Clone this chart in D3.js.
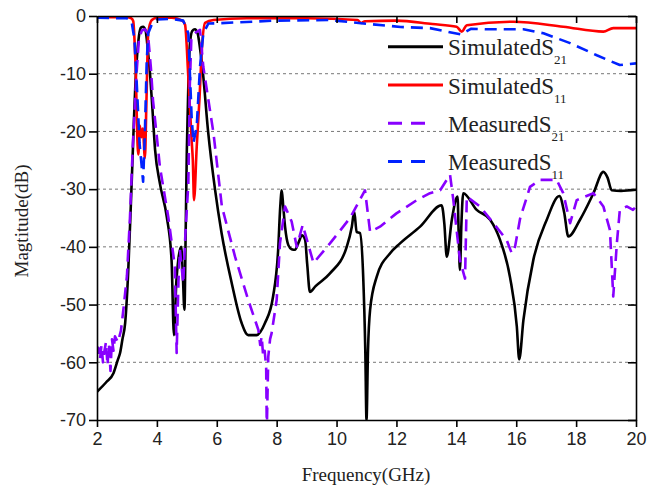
<!DOCTYPE html>
<html>
<head>
<meta charset="utf-8">
<script src="https://cdn.jsdelivr.net/npm/d3@7"></script>
<style>
  body { margin: 0; background: #fff; }
  svg { display: block; font-family: "Liberation Serif", "Times New Roman", serif; }
</style>
</head>
<body>
<div class="container"></div>
<script>
(function() {
  // chart data: [GHz, dB]
  var simS21 = [
    [2.0,-65.1],[2.3,-63.5],[2.55,-61.9],[2.7,-59.5],[2.77,-58.4],[2.85,-56],[2.94,-53.2],[3.04,-44.6],
    [3.15,-30],[3.3,-10],[3.4,-3.5],[3.47,-2.0],[3.54,-1.85],[3.62,-2.5],[3.7,-6],[3.77,-10],[3.85,-16],
    [3.94,-23.2],[4.1,-29],[4.33,-34.8],[4.49,-42.3],[4.57,-55.3],[4.65,-46],[4.72,-42],[4.81,-40],
    [4.86,-44],[4.92,-50.9],[4.96,-38],[5.0,-23.2],[5.05,-12],[5.1,-5],[5.18,-2.6],[5.27,-2.3],[5.36,-3],
    [5.45,-6],[5.54,-10],[5.71,-20],[5.94,-30],[6.16,-37.6],[6.5,-46.3],[6.83,-53.2],[7.05,-55.3],
    [7.33,-55.3],[7.61,-53.2],[7.88,-48.6],[8.05,-40.5],[8.12,-33],[8.17,-30.2],[8.22,-33],[8.28,-36.5],
    [8.39,-39.7],[8.5,-40.4],[8.61,-40.5],[8.75,-39],[8.84,-38],[8.95,-38.8],[9.02,-43],[9.11,-47.8],
    [9.3,-46.8],[9.78,-44.6],[10.34,-40],[10.51,-36.5],[10.59,-33.9],[10.67,-37.4],[10.78,-37.6],
    [10.89,-45.2],[10.96,-58],[11.0,-70],[11.05,-58],[11.12,-50.9],[11.34,-45.2],[11.79,-41.1],
    [12.12,-39.4],[12.79,-36.5],[13.51,-32.8],[13.6,-36],[13.68,-41.7],[13.85,-35.3],[14.04,-31.3],
    [14.08,-38],[14.12,-44.0],[14.17,-36],[14.23,-30.7],[14.68,-33.6],[15.13,-35.3],[15.46,-38.8],
    [15.79,-45.2],[16.02,-53.8],[16.1,-59.5],[16.24,-52.7],[16.57,-42.3],[17.02,-35.3],[17.44,-31.2],
    [17.6,-34],[17.74,-38.2],[18.13,-35.3],[18.58,-30.7],[18.91,-27.0],[19.05,-28],[19.19,-30.2],
    [19.5,-30.3],[20.0,-30.1]
  ];

  var simS11 = [
    [2.0,-0.2],[3.0,-0.2],[3.15,-0.4],[3.21,-0.9],[3.26,-5],[3.3,-10.6],[3.34,-20],[3.38,-24],[3.43,-19],
    [3.48,-21],[3.53,-19.5],[3.6,-24.6],[3.65,-15],[3.71,-3],[3.83,-0.7],[4.0,-0.3],[4.5,-0.3],
    [4.85,-0.8],[4.94,-1.5],[5.05,-10.6],[5.16,-21.5],[5.2,-25],[5.24,-31.9],[5.33,-22.7],[5.42,-14.6],
    [5.5,-5.9],[5.61,-1.2],[5.89,-0.7],[7,-0.4],[9,-0.4],[10.7,-0.7],[10.82,-1.2],[10.95,-0.9],
    [12.0,-0.8],[13.2,-1.4],[14.01,-1.85],[14.18,-2.7],[14.35,-1.6],[15.9,-1.0],[17.57,-1.85],
    [18.91,-2.7],[19.24,-2.1],[20.0,-2.1]
  ];

  var measS21 = [
    [2.0,-58.5],[2.05,-57.5],[2.1,-59.5],[2.15,-57],[2.2,-60],[2.25,-58],[2.3,-56.5],[2.35,-60.5],
    [2.4,-57],[2.45,-61.5],[2.5,-56],[2.55,-58],[2.6,-55.5],[2.7,-56.5],[2.8,-54.5],[2.9,-50],[3.0,-45],
    [3.1,-35],[3.2,-22],[3.32,-10],[3.4,-4],[3.5,-2.5],[3.6,-2.3],[3.7,-3],[3.8,-9],[3.87,-14.6],
    [4.0,-21],[4.1,-26.1],[4.38,-34.8],[4.6,-43.4],[4.66,-58.4],[4.72,-46],[4.77,-40.5],[4.88,-46.3],
    [4.95,-38],[5.05,-29],[5.1,-12],[5.15,-4],[5.25,-3],[5.44,-2.4],[5.55,-8.8],[5.89,-20.3],
    [6.17,-33],[6.61,-41.7],[7.05,-49.2],[7.39,-54.4],[7.45,-57],[7.5,-55.5],[7.55,-59],[7.6,-58],
    [7.65,-61],[7.67,-72],[7.72,-59],[7.78,-56],[7.83,-55],[8.0,-49.2],[8.11,-39.4],[8.28,-33],
    [8.5,-35.6],[8.67,-40],[8.87,-36.2],[9.23,-42.8],[9.78,-39.4],[10.45,-35],[10.95,-30.2],
    [11.12,-37.4],[11.45,-36.5],[12.0,-34.2],[12.68,-31.9],[13.12,-30.7],[13.46,-30.2],[13.79,-27.5],
    [13.9,-31.9],[14.12,-42.3],[14.29,-45.5],[14.35,-31.3],[14.79,-33],[15.24,-35.9],[15.68,-38.8],
    [15.85,-41.1],[15.96,-40],[16.13,-35.1],[16.46,-29.6],[16.8,-28.4],[17.35,-28.4],[17.57,-30.7],
    [17.8,-35.9],[18.02,-31.9],[18.58,-30.7],[18.91,-33],[19.13,-37.1],[19.24,-48.6],[19.36,-39.4],
    [19.46,-33.6],[19.69,-33],[19.9,-33.6],[20.0,-33]
  ];

  var measS11 = [
    [2.0,-0.3],[3.0,-0.4],[3.15,-0.8],[3.25,-4],[3.33,-12],[3.42,-22],[3.54,-28.7],[3.6,-20],[3.66,-8],
    [3.71,-3],[3.85,-1.2],[4.0,-0.6],[4.5,-0.5],[4.88,-0.8],[5.05,-3],[5.16,-17.5],[5.22,-22],
    [5.33,-19.2],[5.44,-8.8],[5.55,-3],[5.72,-1.3],[6.06,-1.25],[7.97,-0.8],[9.78,-0.7],[10.89,-1.3],
    [12.14,-1.9],[13.12,-2.1],[14.15,-3.2],[14.5,-2.2],[15.0,-2.3],[16.24,-2.3],[16.91,-3],[17.8,-4.7],
    [18.69,-6.8],[19.46,-8.5],[20.0,-8.2]
  ];

  var xTicks = [2, 4, 6, 8, 10, 12, 14, 16, 18, 20];
  var yTicks = [0, -10, -20, -30, -40, -50, -60, -70];

  var legendNames = ['Simulated', 'Simulated', 'Measured', 'Measured'];
  var legendSubs = ['21', '11', '21', '11'];

  // layout
  var width = 659, height = 487;
  var margin = { top: 16, right: 23, bottom: 67, left: 97 };
  var innerW = width - margin.left - margin.right;
  var innerH = height - margin.top - margin.bottom;

  var series = [
    { data: simS21, color: '#000000', dash: null, smooth: true },
    { data: simS11, color: '#ff0000', dash: null, smooth: true },
    { data: measS21, color: '#8800ff', dash: '12,7', smooth: false },
    { data: measS11, color: '#0022ff', dash: '12,7', smooth: false }
  ];

  var svg = d3.select('div.container').append('svg')
    .attr('width', width).attr('height', height);

  var g = svg.append('g').attr('transform', 'translate(' + margin.left + ',' + margin.top + ')');

  var x = d3.scaleLinear().domain([2, 20]).range([0, innerW]);
  var y = d3.scaleLinear().domain([-70, 0]).range([innerH, 0]);

  // grid lines
  g.append('g').selectAll('line')
    .data(yTicks.filter(function(d) { return d < 0 && d > -70; }))
    .enter().append('line')
    .attr('x1', 0).attr('x2', innerW)
    .attr('y1', function(d) { return y(d); }).attr('y2', function(d) { return y(d); })
    .attr('stroke', '#777').attr('stroke-width', 1).attr('stroke-dasharray', '3,3');

  svg.append('clipPath').attr('id', 'plotClip')
    .append('rect').attr('x', 0).attr('y', 0).attr('width', innerW).attr('height', innerH);

  var curves = g.append('g').attr('clip-path', 'url(#plotClip)');
  series.forEach(function(s) {
    var line = d3.line()
      .x(function(d) { return x(d[0]); })
      .y(function(d) { return y(d[1]); })
      .curve(s.smooth ? d3.curveMonotoneX : d3.curveLinear);
    curves.append('path')
      .datum(s.data)
      .attr('d', line)
      .attr('fill', 'none')
      .attr('stroke', s.color)
      .attr('stroke-width', 2.6)
      .attr('stroke-linejoin', 'round')
      .attr('stroke-dasharray', s.dash);
  });

  // axes
  var fmt = function(d) { return String(d); };
  var styleAxis = function(sel) {
    sel.selectAll('.domain').attr('stroke', '#000').attr('stroke-width', 1.6);
    sel.selectAll('.tick line').attr('stroke', '#000').attr('stroke-width', 1.6);
    sel.selectAll('.tick text').attr('fill', '#222').style('font-size', '18px');
  };

  g.append('g').attr('transform', 'translate(0,' + innerH + ')')
    .call(d3.axisBottom(x).tickValues(xTicks).tickFormat(fmt).tickSizeInner(7).tickSizeOuter(0).tickPadding(5))
    .call(styleAxis);
  g.append('g')
    .call(d3.axisLeft(y).tickValues(yTicks).tickFormat(fmt).tickSizeInner(8).tickSizeOuter(0).tickPadding(3))
    .call(styleAxis);
  g.append('g')
    .call(d3.axisTop(x).tickValues(xTicks).tickFormat('').tickSizeInner(-7).tickSizeOuter(0))
    .call(styleAxis);
  g.append('g').attr('transform', 'translate(' + innerW + ',0)')
    .call(d3.axisRight(y).tickValues(yTicks).tickFormat('').tickSizeInner(-8).tickSizeOuter(0))
    .call(styleAxis);

  // axis titles
  svg.append('text')
    .attr('x', 366).attr('y', 481)
    .attr('text-anchor', 'middle')
    .style('font-size', '19px').attr('fill', '#222')
    .text('Frequency(GHz)');
  svg.append('text')
    .attr('transform', 'translate(28,221) rotate(-90)')
    .attr('text-anchor', 'middle')
    .style('font-size', '19px').attr('fill', '#222')
    .text('Magtitude(dB)');

  // legend
  var legend = svg.append('g');
  series.forEach(function(s, i) {
    var ly = 46.7 + i * 38.3;
    legend.append('line')
      .attr('x1', 388).attr('x2', s.dash ? 426 : 443)
      .attr('y1', ly).attr('y2', ly)
      .attr('stroke', s.color).attr('stroke-width', 3)
      .attr('stroke-dasharray', s.dash ? '14,9' : null);
    var t = legend.append('text')
      .attr('x', 448).attr('y', ly + 8.5)
      .attr('fill', '#222')
      .style('font-size', '23px');
    t.append('tspan').text(legendNames[i] + 'S');
    t.append('tspan').attr('dy', 9).style('font-size', '13px').text(legendSubs[i]);
  });
})();
</script>
</body>
</html>
